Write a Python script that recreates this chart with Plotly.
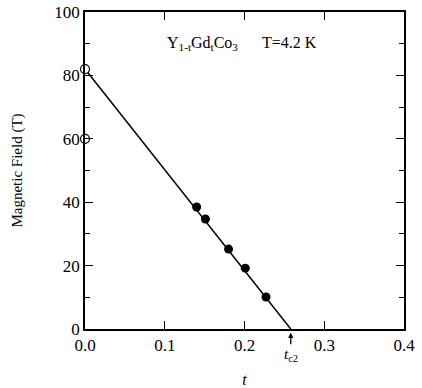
import plotly.graph_objects as go

# Data
t_filled = [0.140, 0.151, 0.180, 0.201, 0.227]
B_filled = [38.5, 34.7, 25.2, 19.2, 10.1]
t_open = [0.0, 0.0]
B_open = [82.0, 60.0]
line_t = [0.0, 0.258]
line_B = [82.0, 0.0]
t_c2 = 0.258

FONT = "Liberation Serif"

fig = go.Figure()
fig.add_trace(go.Scatter(x=line_t, y=line_B, mode="lines",
                         line=dict(color="black", width=1.5), cliponaxis=False))
fig.add_trace(go.Scatter(x=t_filled, y=B_filled, mode="markers",
                         marker=dict(color="black", size=9), cliponaxis=False))
fig.add_trace(go.Scatter(x=t_open, y=B_open, mode="markers",
                         marker=dict(color="white", size=9,
                                     line=dict(color="black", width=1.2)),
                         cliponaxis=False))

fig.add_annotation(x=0.10, y=90, xref="x", yref="y", xanchor="left",
                   text="Y<sub>1-t</sub>Gd<sub>t</sub>Co<sub>3</sub>&nbsp;&nbsp;&nbsp;&nbsp;&nbsp;&nbsp;T=4.2 K",
                   showarrow=False, font=dict(family=FONT, size=16, color="black"))
fig.add_annotation(x=t_c2, y=-0.012, xref="x", yref="paper",
                   text="<i>t</i><sub>c2</sub>", showarrow=True,
                   arrowhead=2, arrowsize=0.8, arrowwidth=1.3, arrowcolor="black",
                   ax=0, ay=22, font=dict(family=FONT, size=15, color="black"))

axis_common = dict(showline=True, linecolor="black", linewidth=1.5, mirror="ticks",
                   ticks="inside", tickcolor="black", tickwidth=1.3,
                   showgrid=False, zeroline=False, automargin=False,
                   tickfont=dict(family=FONT, size=17, color="black"))

fig.update_xaxes(range=[0, 0.4], dtick=0.1, tick0=0, tickformat=".1f", ticklen=8,
                 title=dict(text="<i>t</i>", font=dict(family=FONT, size=16, color="black"),
                            standoff=26),
                 **axis_common)
fig.update_yaxes(range=[0, 100], dtick=20, tick0=0, ticklen=8,
                 minor=dict(dtick=10, ticks="inside", ticklen=5, tickcolor="black"),
                 title=dict(text="Magnetic Field (T)",
                            font=dict(family=FONT, size=15, color="black"), standoff=28),
                 **axis_common)

fig.update_layout(width=422, height=388, showlegend=False,
                  margin=dict(l=85, r=18, t=12, b=59),
                  plot_bgcolor="white", paper_bgcolor="white",
                  font=dict(family=FONT, color="black"))

fig.write_html("out.html")
